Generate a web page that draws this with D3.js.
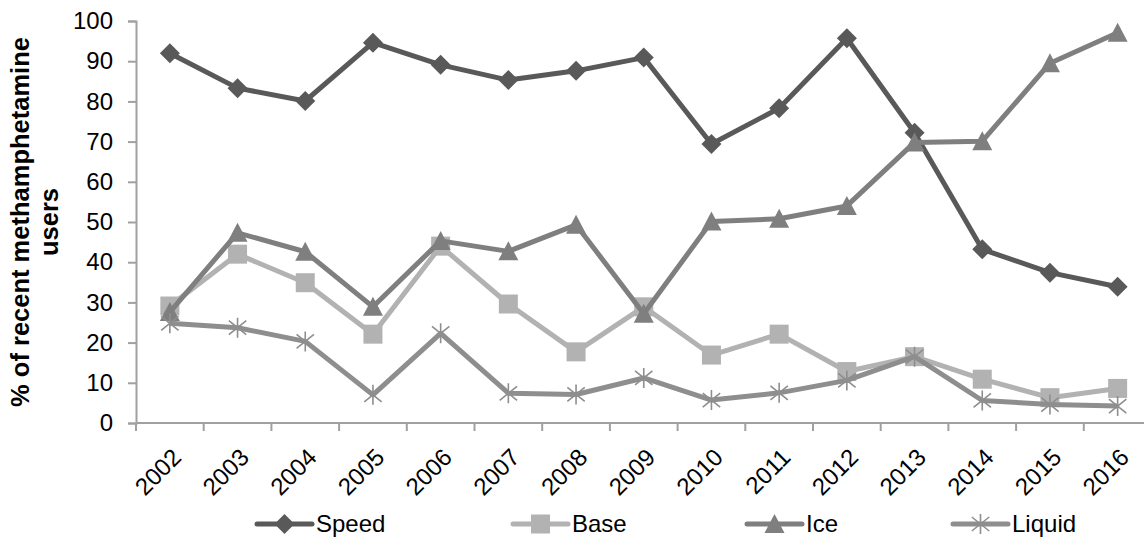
<!DOCTYPE html>
<html>
<head>
<meta charset="utf-8">
<script src="https://cdn.jsdelivr.net/npm/d3@7"></script>
<style>
  html, body { margin: 0; padding: 0; background: #fff; }
  svg { display: block; font-family: "Liberation Sans", Arial, sans-serif; }
</style>
</head>
<body>
<svg id="chart" width="1144" height="537"></svg>
<script>
// Survey years
const years = ["2002","2003","2004","2005","2006","2007","2008","2009","2010","2011","2012","2013","2014","2015","2016"];

// % of recent methamphetamine users reporting each form
const speed  = [92.0, 83.3, 80.1, 94.6, 89.1, 85.3, 87.6, 90.9, 69.4, 78.3, 95.7, 72.2, 43.2, 37.4, 33.9];
const base   = [29.1, 42.0, 34.9, 22.1, 44.0, 29.6, 17.7, 28.9, 16.9, 22.1, 12.8, 16.5, 10.9, 6.3, 8.6];
const ice    = [27.6, 47.3, 42.6, 28.9, 45.3, 42.7, 49.3, 27.2, 50.1, 50.8, 54.0, 69.8, 70.1, 89.5, 97.1];
const liquid = [24.8, 23.7, 20.3, 7.0, 22.3, 7.4, 7.1, 11.2, 5.7, 7.5, 10.6, 16.5, 5.6, 4.6, 4.2];

const yTicks = [0, 10, 20, 30, 40, 50, 60, 70, 80, 90, 100];

const seriesNames = ["Speed", "Base", "Ice", "Liquid"];
const seriesValues = [speed, base, ice, liquid];

// Styling per series
const styles = {
  Speed:  { color: "#595959", marker: "diamond" },
  Base:   { color: "#b2b2b2", marker: "square" },
  Ice:    { color: "#7f7f7f", marker: "triangle" },
  Liquid: { color: "#8e8e8e", marker: "star" }
};

const svg = d3.select("#chart");
const plotLeft = 136, plotTop = 21, plotBottom = 423;
const band = 67.7;
const fontSize = 24;

const x = d3.scaleBand().domain(years).range([plotLeft, plotLeft + band * years.length]).paddingInner(0).paddingOuter(0);
const y = d3.scaleLinear().domain([0, 100]).range([plotBottom, plotTop]);

const axisColor = "#a0a0a0";

// Y axis
const yAxis = svg.append("g").attr("transform", `translate(${plotLeft},0)`)
  .call(d3.axisLeft(y).tickValues(yTicks).tickSize(8).tickPadding(15).tickFormat(d3.format("d")));
yAxis.attr("font-size", fontSize).attr("font-family", "Liberation Sans, Arial, sans-serif");
yAxis.select(".domain").attr("stroke", axisColor).attr("stroke-width", 2);
yAxis.selectAll(".tick line").attr("stroke", axisColor).attr("stroke-width", 2);
yAxis.selectAll(".tick text").attr("fill", "#000");

// X axis: ticks on band boundaries
const xAxisG = svg.append("g").attr("transform", `translate(0,${plotBottom})`);
xAxisG.append("line").attr("x1", plotLeft).attr("x2", x.range()[1])
  .attr("stroke", axisColor).attr("stroke-width", 2);
const boundaries = years.map(d => x(d)).concat([x.range()[1]]);
xAxisG.selectAll("line.tk").data(boundaries).enter().append("line")
  .attr("class", "tk")
  .attr("x1", d => d).attr("x2", d => d).attr("y1", 0).attr("y2", 8)
  .attr("stroke", axisColor).attr("stroke-width", 2);
xAxisG.selectAll("text").data(years).enter().append("text")
  .attr("transform", d => `translate(${x(d) + x.bandwidth() / 2 + 1},${24}) rotate(-45)`)
  .attr("text-anchor", "end")
  .attr("dy", "0.7em")
  .attr("font-size", fontSize)
  .attr("fill", "#000")
  .text(d => d);

// Y axis title
const title = svg.append("text")
  .attr("transform", `translate(29,222) rotate(-90)`)
  .attr("text-anchor", "middle")
  .attr("font-size", 25.5)
  .attr("font-weight", "bold")
  .attr("fill", "#000");
title.append("tspan").attr("x", 0).attr("dy", 0).text("% of recent methamphetamine");
title.append("tspan").attr("x", 0).attr("dy", 29).text("users");

// Marker drawing helper
function drawMarker(g, type, color) {
  if (type === "diamond") {
    g.append("path").attr("d", "M0,-10L10,0L0,10L-10,0Z").attr("fill", color);
  } else if (type === "square") {
    g.append("rect").attr("x", -9.5).attr("y", -9.5).attr("width", 19).attr("height", 19).attr("fill", color);
  } else if (type === "triangle") {
    g.append("path").attr("d", "M0,-10L10,9L-10,9Z").attr("fill", color);
  } else if (type === "star") {
    const r = 10;
    g.append("path")
      .attr("d", `M0,${-r}L0,${r}M${-r * 0.87},${-r * 0.7}L${r * 0.87},${r * 0.7}M${-r * 0.87},${r * 0.7}L${r * 0.87},${-r * 0.7}`)
      .attr("stroke", color).attr("stroke-width", 1.6).attr("fill", "none");
  }
}

const line = d3.line()
  .x((d, i) => x(years[i]) + x.bandwidth() / 2)
  .y(d => y(d));

seriesNames.forEach((name, si) => {
  const vals = seriesValues[si];
  const st = styles[name];
  const g = svg.append("g");
  g.append("path").datum(vals)
    .attr("d", line)
    .attr("fill", "none")
    .attr("stroke", st.color)
    .attr("stroke-width", 5)
    .attr("stroke-linejoin", "round");
  vals.forEach((v, i) => {
    const mg = g.append("g").attr("transform", `translate(${x(years[i]) + x.bandwidth() / 2},${y(v)})`);
    drawMarker(mg, st.marker, st.color);
  });
});

// Legend
const legendX = [257, 513, 747, 953];
const legendY = 524;
seriesNames.forEach((name, i) => {
  const st = styles[name];
  const g = svg.append("g").attr("transform", `translate(${legendX[i]},${legendY})`);
  g.append("line").attr("x1", 0).attr("x2", 55).attr("y1", 0).attr("y2", 0)
    .attr("stroke", st.color).attr("stroke-width", 5).attr("stroke-linecap", "round");
  const mg = g.append("g").attr("transform", "translate(27.5,0)");
  drawMarker(mg, st.marker, st.color);
  g.append("text").attr("x", 59).attr("y", 8).attr("font-size", fontSize).attr("fill", "#000").text(name);
});
</script>
</body>
</html>
